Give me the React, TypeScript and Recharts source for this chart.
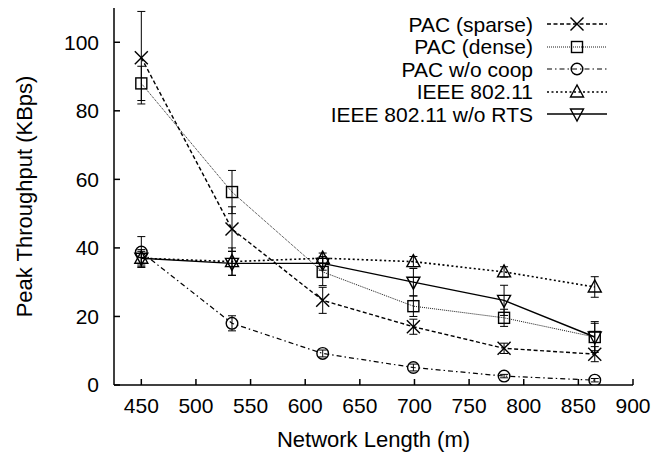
import { ComposedChart, Line, XAxis, YAxis, ErrorBar, Legend, Label } from "recharts";

const lengths = [450, 533, 616, 699, 782, 865];
const pacSparse = [95.5, 45.5, 24.7, 17.0, 10.7, 9.0];
const pacSparseErr = [13.5, 6.5, 3.8, 2.2, 1.5, 2.2];
const pacDense = [88, 56.3, 33, 23, 19.6, 14];
const pacDenseErr = [5, 6.3, 4, 3, 2.5, 4];
const pacNoCoop = [38.8, 18, 9.2, 5.1, 2.6, 1.4];
const pacNoCoopErr = [4.5, 2.2, 1, 1, 0.5, 0.5];
const ieee = [37, 36, 37, 36, 33, 28.6];
const ieeeErr = [2.5, 4, 1.5, 1.5, 1.5, 3];
const ieeeNoRts = [37, 35.5, 35.5, 30, 24.7, 14];
const ieeeNoRtsErr = [2, 3.5, 2, 4, 4.4, 4.5];

const xTicks = [450, 500, 550, 600, 650, 700, 750, 800, 850, 900];
const yTicks = [0, 20, 40, 60, 80, 100];

const FONT = '"Liberation Sans", Arial, Helvetica, sans-serif';

const data = lengths.map((x, i) => ({
  x,
  sparse: pacSparse[i],
  sparseErr: pacSparseErr[i],
  dense: pacDense[i],
  denseErr: pacDenseErr[i],
  coop: pacNoCoop[i],
  coopErr: pacNoCoopErr[i],
  ieee: ieee[i],
  ieeeErr: ieeeErr[i],
  rts: ieeeNoRts[i],
  rtsErr: ieeeNoRtsErr[i],
}));

type Kind = "cross" | "square" | "circle" | "up" | "down";

const series: { key: string; name: string; kind: Kind; dash?: string; width: number }[] = [
  { key: "sparse", name: "PAC (sparse)", kind: "cross", dash: "4 2.5", width: 1.4 },
  { key: "dense", name: "PAC (dense)", kind: "square", dash: "1 1", width: 0.9 },
  { key: "coop", name: "PAC w/o coop", kind: "circle", dash: "5 3 1.5 3", width: 1.2 },
  { key: "ieee", name: "IEEE 802.11", kind: "up", dash: "2 2.5", width: 1.6 },
  { key: "rts", name: "IEEE 802.11 w/o RTS", kind: "down", width: 1.4 },
];

function Marker({ kind, cx, cy }: { kind: Kind; cx: number; cy: number }) {
  const s = { stroke: "#000", strokeWidth: 1.4, fill: "none" };
  if (kind === "cross")
    return (
      <g {...s}>
        <line x1={cx - 6.5} y1={cy - 6.5} x2={cx + 6.5} y2={cy + 6.5} />
        <line x1={cx - 6.5} y1={cy + 6.5} x2={cx + 6.5} y2={cy - 6.5} />
      </g>
    );
  if (kind === "square") return <rect x={cx - 5.5} y={cy - 5.5} width={11} height={11} {...s} />;
  if (kind === "circle") return <circle cx={cx} cy={cy} r={5.8} {...s} />;
  if (kind === "up")
    return <polygon points={`${cx},${cy - 7} ${cx - 6.5},${cy + 5} ${cx + 6.5},${cy + 5}`} {...s} />;
  return <polygon points={`${cx},${cy + 7} ${cx - 6.5},${cy - 5} ${cx + 6.5},${cy - 5}`} {...s} />;
}

function LegendBox() {
  return (
    <div style={{ fontFamily: FONT, fontSize: 21, color: "#000" }}>
      {series.map((s) => (
        <div key={s.key} style={{ display: "flex", justifyContent: "flex-end", alignItems: "center", height: 22.5 }}>
          <span style={{ lineHeight: "21px", marginRight: 14 }}>{s.name}</span>
          <svg width={60} height={22}>
            <line x1={0} y1={11} x2={60} y2={11} stroke="#000" strokeWidth={s.width} strokeDasharray={s.dash} />
            <Marker kind={s.kind} cx={30} cy={11} />
          </svg>
        </div>
      ))}
    </div>
  );
}

const tickStyle = { fontSize: 21, fill: "#000", fontFamily: FONT };
const titleStyle = { fontSize: 22, fill: "#000", fontFamily: FONT };

export default function App() {
  return (
    <div style={{ position: "absolute", left: 0, top: 0, background: "#fff" }}>
      <ComposedChart width={670} height={455} data={data} margin={{ top: 8, right: 37, left: 0, bottom: 0 }}>
        <XAxis
          dataKey="x"
          type="number"
          domain={[425, 900]}
          ticks={xTicks}
          allowDataOverflow
          height={70}
          stroke="#000"
          strokeWidth={1.5}
          tickSize={-6}
          tickMargin={19}
          tick={tickStyle}
        >
          <Label value="Network Length (m)" position="center" dy={19} style={titleStyle} />
        </XAxis>
        <XAxis
          xAxisId="top"
          orientation="top"
          type="number"
          domain={[425, 900]}
          ticks={xTicks}
          allowDataOverflow
          height={0}
          stroke="#000"
          strokeWidth={1.5}
          tickSize={-6}
          tick={false}
        />
        <YAxis
          type="number"
          domain={[0, 110]}
          ticks={yTicks}
          allowDataOverflow
          width={114}
          stroke="#000"
          strokeWidth={1.5}
          tickSize={-6}
          tickMargin={21}
          tick={tickStyle}
        >
          <Label value="Peak Throughput (KBps)" angle={-90} position="center" dx={-33} style={titleStyle} />
        </YAxis>
        <YAxis
          yAxisId="right"
          orientation="right"
          type="number"
          domain={[0, 110]}
          ticks={yTicks}
          allowDataOverflow
          width={0}
          stroke="#000"
          strokeWidth={1.5}
          tickSize={-6}
          tick={false}
        />
        <Legend
          layout="vertical"
          align="center"
          verticalAlign="middle"
          content={() => <LegendBox />}
          wrapperStyle={{ top: 13, left: 0, width: 607, height: "auto" }}
        />
        {series.map((s) => (
          <Line
            key={s.key}
            dataKey={s.key}
            name={s.name}
            type="linear"
            stroke="#000"
            strokeWidth={s.width}
            strokeDasharray={s.dash}
            isAnimationActive={false}
            dot={(p: any) => <Marker key={`${s.key}-${p.index}`} kind={s.kind} cx={p.cx} cy={p.cy} />}
            activeDot={false}
          >
            <ErrorBar dataKey={`${s.key}Err`} direction="y" width={4} stroke="#000" strokeWidth={1} isAnimationActive={false} />
          </Line>
        ))}
      </ComposedChart>
    </div>
  );
}
